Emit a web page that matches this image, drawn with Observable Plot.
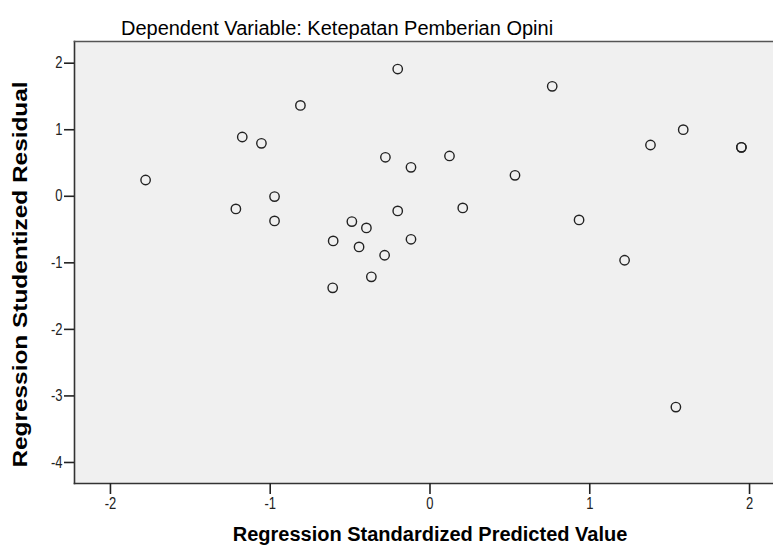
<!DOCTYPE html>
<html>
<head>
<meta charset="utf-8">
<script src="https://cdn.jsdelivr.net/npm/d3@7"></script>
<script src="https://cdn.jsdelivr.net/npm/@observablehq/plot@0.6"></script>
<style>
  html, body { margin: 0; padding: 0; background: #fff; }
  #chart svg { display: block; }
</style>
</head>
<body>
<div id="chart"></div>
<script>
const titleText = "Dependent Variable: Ketepatan Pemberian Opini";
const xLabel = "Regression Standardized Predicted Value";
const yLabel = "Regression Studentized Residual";

const predicted = [
  -1.78, -1.175, -1.055, -0.811, -0.202, 0.765, 1.585, 1.380, 1.949, 1.949,
  -0.279, -0.119, 0.122, 0.532, -0.973, -1.215, -0.973, -0.202, 0.205, 0.933,
  -0.489, -0.398, -0.606, -0.444, -0.119, -0.284, -0.367, -0.609, 1.218, 1.539
];
const residual = [
  0.245, 0.891, 0.796, 1.366, 1.912, 1.652, 1.001, 0.771, 0.736, 0.736,
  0.586, 0.435, 0.606, 0.315, -0.005, -0.190, -0.370, -0.220, -0.175, -0.355,
  -0.380, -0.475, -0.671, -0.761, -0.646, -0.886, -1.211, -1.376, -0.961, -3.168
];
const xTicks = [-2, -1, 0, 1, 2];
const yTicks = [2, 1, 0, -1, -2, -3, -4];
const xDomain = [-2.225, 2.15];
const yDomain = [-4.316, 2.326];

const data = predicted.map((x, i) => ({x, y: residual[i]}));
const fmt = d => String(d);

const chart = Plot.plot({
  width: 773,
  height: 555,
  marginLeft: 74,
  marginRight: 0,
  marginTop: 41,
  marginBottom: 72,
  style: {fontFamily: "'Liberation Sans', Arial, sans-serif", background: "#fff"},
  x: {domain: xDomain},
  y: {domain: yDomain},
  marks: [
    Plot.frame({fill: "#f0f0f0", stroke: null}),
    Plot.frame({anchor: "left", stroke: "#333", strokeWidth: 1.6}),
    Plot.frame({anchor: "bottom", stroke: "#333", strokeWidth: 1.6}),
    Plot.frame({anchor: "top", stroke: "#555", strokeWidth: 1.6}),
    Plot.axisX({ticks: xTicks, tickFormat: fmt, tickSize: 11, tickPadding: 3, fontSize: 13, stroke: "#222", strokeWidth: 1.6, label: null, color: "#222"}),
    Plot.axisY({ticks: yTicks, tickFormat: fmt, tickSize: 10, tickPadding: 2, fontSize: 13, stroke: "#222", strokeWidth: 1.6, label: null, color: "#222"}),
    Plot.dot(data, {x: "x", y: "y", r: 4.7, stroke: "#222", strokeWidth: 1.4, fill: "none"}),
    Plot.text([titleText], {frameAnchor: "top", dy: -20.5, dx: -87, fontSize: 20, fill: "#000", textAnchor: "middle"}),
    Plot.text([xLabel], {frameAnchor: "bottom", dy: 57, dx: 6, fontSize: 20, fontWeight: "bold", fill: "#000", textAnchor: "middle"}),
    Plot.text([yLabel], {frameAnchor: "left", dx: -54, dy: 12, rotate: -90, fontSize: 20, fontWeight: "bold", fill: "#000", textAnchor: "middle"})
  ]
});

// mimic the vertically stretched rendering of the original picture
const svg = d3.select(chart);
svg.selectAll("g[aria-label='x-axis tick label'] text, g[aria-label='y-axis tick label'] text")
  .attr("transform", function() { return (this.getAttribute("transform") || "") + " scale(1,1.25)"; });
svg.selectAll("text").filter(function() { return this.textContent === yLabel; })
  .attr("transform", function() { return (this.getAttribute("transform") || "") + " scale(1.22,1)"; });

document.getElementById("chart").append(chart);
</script>
</body>
</html>
